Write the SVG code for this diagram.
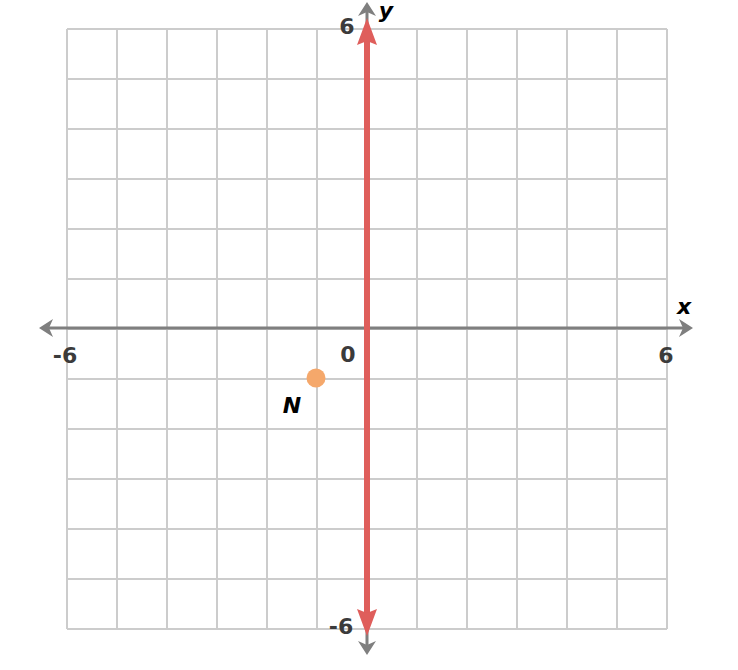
<svg xmlns="http://www.w3.org/2000/svg" width="738" height="670" viewBox="0 0 738 670">
<defs>
<style>
.grid{stroke:#cccccc;stroke-width:2;fill:none}
.axis{stroke:#7f7f7f;stroke-width:3;fill:none}
.ah{fill:#7f7f7f}
.lbl{font-family:"DejaVu Sans",sans-serif;font-weight:bold;font-size:22px;fill:#3b3b3b}
.var{font-family:"DejaVu Sans",sans-serif;font-weight:bold;font-style:italic;font-size:22px;fill:#000}
</style>
</defs>
<rect width="738" height="670" fill="#ffffff"/>
<g id="grid">
<path class="grid" d="M67 29V629M117 29V629M167 29V629M217 29V629M267 29V629M317 29V629M367 29V629M417 29V629M467 29V629M517 29V629M567 29V629M617 29V629M667 29V629"/>
<path class="grid" d="M67 29H667M67 79H667M67 129H667M67 179H667M67 229H667M67 279H667M67 329H667M67 379H667M67 429H667M67 479H667M67 529H667M67 579H667M67 629H667"/>
</g>
<g id="connectors">
<g id="axes">
<line class="axis" x1="44" y1="328" x2="688" y2="328"/>
<line class="axis" x1="367" y1="8" x2="367" y2="650"/>
<path class="ah" d="M39 328 L53 319 L49 328 L53 337 Z"/>
<path class="ah" d="M693 328 L679 319 L683 328 L679 337 Z"/>
<path class="ah" d="M367 2 L358 16 L367 12 L376 16 Z"/>
<path class="ah" d="M367 655 L358 641 L367 645 L376 641 Z"/>
</g>
<g id="line">
<line x1="367" y1="40" x2="367" y2="614" stroke="#df5e5b" stroke-width="6"/>
<path d="M367 18 L377 45 L367 41 L357 45 Z" fill="#df5e5b"/>
<path d="M367 636 L377 609 L367 613 L357 609 Z" fill="#df5e5b"/>
</g>
</g>
<g id="labels">
<text class="lbl" x="65" y="363" text-anchor="middle">-6</text>
<text class="lbl" x="666" y="363" text-anchor="middle">6</text>
<text class="lbl" x="348" y="362" text-anchor="middle">0</text>
<text class="lbl" x="347" y="34" text-anchor="middle">6</text>
<text class="lbl" x="341" y="634" text-anchor="middle">-6</text>
<text class="var" x="684" y="314" text-anchor="middle">x</text>
<text class="var" x="386" y="18" text-anchor="middle">y</text>
</g>
<g id="point-N">
<circle cx="316" cy="378" r="9.5" fill="#f5a86b"/>
<text class="var" x="292" y="413" text-anchor="middle" font-size="28">N</text>
</g>
</svg>
